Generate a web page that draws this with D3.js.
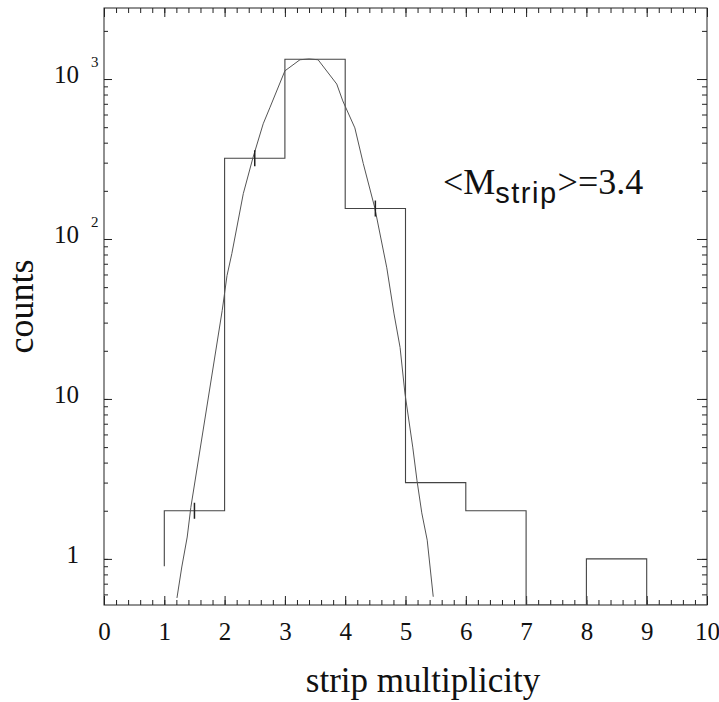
<!DOCTYPE html>
<html>
<head>
<meta charset="utf-8">
<script src="https://cdn.jsdelivr.net/npm/d3@7"></script>
<style>
  body { margin: 0; background: #fff; }
  text { font-family: "Liberation Serif", "Times New Roman", serif; fill: #111; }
</style>
</head>
<body>
<div id="chart-area"></div>
<script>
// histogram of strip multiplicity (bin edges, counts per bin)
const binEdges = [1, 2, 3, 4, 5, 6, 7, 8, 9, 10];
const binCounts = [2, 320, 1330, 155, 3, 2, 0, 1, 0];
const histStart = 0.9; // level where the first vertical edge begins

// fitted curve
const fitX = [1.21, 1.29, 1.38, 1.44, 1.96, 2.04, 2.12, 2.31, 2.47, 2.64, 2.75, 3.0, 3.25, 3.4, 3.55,
  3.86, 3.96, 4.16, 4.3, 4.49, 4.69, 4.81, 4.91, 4.99, 5.12, 5.19, 5.27, 5.36, 5.46];
const fitY = [0.57, 0.89, 1.37, 2.1, 35.7, 59, 81, 192, 322, 525, 661, 1125, 1320, 1335, 1320,
  930, 730, 495, 296, 157, 66, 34, 21, 10.9, 5.0, 3.1, 1.94, 1.31, 0.58];

// error marks at bin centres
const errX = [1.5, 2.5, 4.5];
const errY = [2, 320, 155];

// axis labels
const xTickVals = [0, 1, 2, 3, 4, 5, 6, 7, 8, 9, 10];
const yLabelVals = [1, 10, 100, 1000];
const yLabelBase = ["1", "10", "10", "10"];
const yLabelExp = ["", "", "2", "3"];

const W = 719, H = 702;
const m = { left: 104, right: 707, top: 8, bottom: 605 };

const svg = d3.select("#chart-area").append("svg")
  .attr("width", W)
  .attr("height", H);

const x = d3.scaleLinear().domain([0, 10]).range([m.left, m.right]);
const y = d3.scaleLog().domain([0.515, 2780]).range([m.bottom, m.top]);

const ink = "#222";

// frame
svg.append("rect")
  .attr("x", m.left).attr("y", m.top)
  .attr("width", m.right - m.left).attr("height", m.bottom - m.top)
  .attr("fill", "none").attr("stroke", ink).attr("stroke-width", 1);

// x ticks, bottom and top, pointing inward
const minorX = d3.range(0, 10.001, 0.2);
svg.append("g").attr("transform", `translate(0,${m.bottom})`)
  .call(d3.axisBottom(x).tickValues(minorX).tickSize(-5).tickFormat(""))
  .call(g => g.select(".domain").remove());
svg.append("g").attr("transform", `translate(0,${m.top})`)
  .call(d3.axisTop(x).tickValues(minorX).tickSize(-5).tickFormat(""))
  .call(g => g.select(".domain").remove());
svg.append("g").attr("transform", `translate(0,${m.bottom})`)
  .call(d3.axisBottom(x).tickValues(xTickVals).tickSize(-9).tickPadding(17).tickFormat(d3.format("d")))
  .call(g => g.select(".domain").remove())
  .call(g => g.selectAll("text")
    .style("font-size", "25px")
    .style("font-family", "'Liberation Serif', serif")
    .attr("fill", "#111"));
svg.append("g").attr("transform", `translate(0,${m.top})`)
  .call(d3.axisTop(x).tickValues(xTickVals).tickSize(-9).tickFormat(""))
  .call(g => g.select(".domain").remove());

// y ticks, left and right
const minorY = y.ticks();
svg.append("g").attr("transform", `translate(${m.left},0)`)
  .call(d3.axisLeft(y).tickValues(minorY).tickSize(-4).tickFormat(""))
  .call(g => g.select(".domain").remove());
svg.append("g").attr("transform", `translate(${m.right},0)`)
  .call(d3.axisRight(y).tickValues(minorY).tickSize(-5).tickFormat(""))
  .call(g => g.select(".domain").remove());
svg.append("g").attr("transform", `translate(${m.left},0)`)
  .call(d3.axisLeft(y).tickValues(yLabelVals).tickSize(-8).tickFormat(""))
  .call(g => g.select(".domain").remove());
svg.append("g").attr("transform", `translate(${m.right},0)`)
  .call(d3.axisRight(y).tickValues(yLabelVals).tickSize(-10).tickFormat(""))
  .call(g => g.select(".domain").remove());
svg.selectAll(".tick line").attr("stroke", ink);

// y labels with superscript exponents
yLabelVals.forEach((v, i) => {
  svg.append("text")
    .attr("x", 79)
    .attr("y", y(v) + 4)
    .attr("text-anchor", "end")
    .style("font-size", "25px")
    .text(yLabelBase[i]);
  if (yLabelExp[i]) {
    svg.append("text")
      .attr("x", 91)
      .attr("y", y(v) - 12)
      .style("font-size", "15px")
      .text(yLabelExp[i]);
  }
});

// axis titles
svg.append("text")
  .attr("transform", `translate(33,${(m.top + m.bottom) / 2}) rotate(-90)`)
  .attr("text-anchor", "middle")
  .style("font-size", "36px")
  .text("counts");

svg.append("text")
  .attr("x", 423)
  .attr("y", 692)
  .attr("text-anchor", "middle")
  .style("font-size", "35px")
  .text("strip multiplicity");

// clip to the plot frame
svg.append("clipPath").attr("id", "plot-clip")
  .append("rect")
  .attr("x", m.left).attr("y", m.top)
  .attr("width", m.right - m.left).attr("height", m.bottom - m.top);
const plot = svg.append("g").attr("clip-path", "url(#plot-clip)");

// histogram as a step line
const yFloor = y.domain()[0];
const level = c => y(c > 0 ? c : yFloor);
const stepPts = [[x(binEdges[0]), y(histStart)]];
binCounts.forEach((c, i) => {
  stepPts.push([x(binEdges[i]), level(c)]);
  stepPts.push([x(binEdges[i + 1]), level(c)]);
});
stepPts.push([x(binEdges[binEdges.length - 1]), y(yFloor)]);
plot.append("path")
  .attr("d", d3.line()(stepPts))
  .attr("fill", "none")
  .attr("stroke", "#444")
  .attr("stroke-width", 1.1);

// fit curve
const fitLine = d3.line()
  .x((d, i) => x(fitX[i]))
  .y(d => y(d));
plot.append("path")
  .attr("d", fitLine(fitY))
  .attr("fill", "none")
  .attr("stroke", "#555")
  .attr("stroke-width", 1);

// error marks
plot.selectAll(".err")
  .data(errX)
  .join("line")
  .attr("class", "err")
  .attr("x1", d => x(d)).attr("x2", d => x(d))
  .attr("y1", (d, i) => y(errY[i]) - 8)
  .attr("y2", (d, i) => y(errY[i]) + 8)
  .attr("stroke", ink)
  .attr("stroke-width", 1.5);

// annotation
const note = svg.append("text")
  .attr("x", 443)
  .attr("y", 194)
  .style("font-size", "36px");
note.append("tspan").text("<M");
note.append("tspan")
  .attr("dy", 9)
  .style("font-family", "'Liberation Sans', Arial, sans-serif")
  .style("font-size", "29px")
  .style("letter-spacing", "1.5px")
  .text("strip");
note.append("tspan").attr("dy", -9).text(">=3.4");
</script>
</body>
</html>
